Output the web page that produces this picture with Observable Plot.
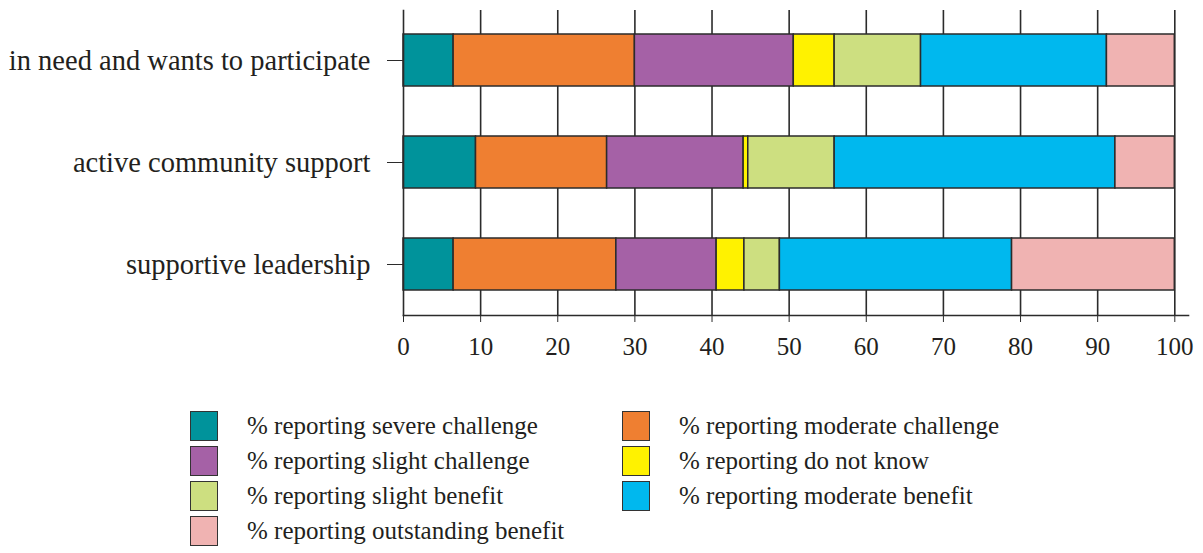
<!DOCTYPE html>
<html>
<head>
<meta charset="utf-8">
<script src="https://cdn.jsdelivr.net/npm/d3@7"></script>
<script src="https://cdn.jsdelivr.net/npm/@observablehq/plot@0.6"></script>
<style>
  body { margin: 0; background: #fff; }
  #chart { position: relative; width: 1203px; }
  .legend { font-family: "Liberation Serif", serif; font-size: 25px; color: #231f20;
    display: grid; grid-template-columns: 432px auto; row-gap: 4px;
    padding-left: 190px; margin-top: 40px; }
  .item { display: flex; align-items: center; height: 31px; }
  .sw { width: 26px; height: 28px; border: 1.5px solid #333; margin-right: 29px; flex: none; }
</style>
</head>
<body>
<div id="chart"></div>
<script>
const categories = ["in need and wants to participate", "active community support", "supportive leadership"];
const seriesNames = [
  "% reporting severe challenge",
  "% reporting moderate challenge",
  "% reporting slight challenge",
  "% reporting do not know",
  "% reporting slight benefit",
  "% reporting moderate benefit",
  "% reporting outstanding benefit"
];
const colors = ["#00939b", "#ef7f31", "#a561a6", "#fff200", "#cddf80", "#00b8ee", "#f0b3b2"];
const severeChallenge    = [6.5, 9.4, 6.5];
const moderateChallenge  = [23.5, 17.0, 21.1];
const slightChallenge    = [20.6, 17.7, 13.0];
const doNotKnow          = [5.3, 0.6, 3.6];
const slightBenefit      = [11.2, 11.2, 4.6];
const moderateBenefit    = [24.1, 36.4, 30.1];
const outstandingBenefit = [8.8, 7.7, 21.1];
const xTicks = [0, 10, 20, 30, 40, 50, 60, 70, 80, 90, 100];

const seriesValues = [severeChallenge, moderateChallenge, slightChallenge, doNotKnow,
  slightBenefit, moderateBenefit, outstandingBenefit];
const data = [];
categories.forEach((c, i) => {
  seriesNames.forEach((s, j) => data.push({category: c, series: s, value: seriesValues[j][i]}));
});

const ink = "#2b2b2b";
const plot = Plot.plot({
  width: 1203, height: 370,
  marginLeft: 403, marginRight: 15, marginTop: 10, marginBottom: 55,
  style: {fontFamily: "Liberation Serif, serif", fontSize: "25px", color: "#231f20", background: "white"},
  x: {domain: [0, 100], range: [403, 1174.3]},
  y: {domain: categories, paddingInner: 0.49, paddingOuter: 0.24},
  color: {domain: seriesNames, range: colors},
  marks: [
    Plot.gridX(xTicks.filter(d => d > 0), {stroke: ink, strokeOpacity: 1, strokeWidth: 1.6}),
    Plot.barX(data, {x: "value", y: "category", fill: "series", stroke: ink, strokeWidth: 1.5}),
    Plot.frame({anchor: "left", stroke: ink, strokeWidth: 1.6}),
    Plot.frame({anchor: "bottom", stroke: ink, strokeWidth: 1.6}),
    Plot.axisX(xTicks, {tickSize: 7, tickPadding: 15, fontSize: 25, label: null, tickFormat: d => d, stroke: ink}),
    Plot.axisY({tickSize: 16, tickPadding: 17, fontSize: 28.5, label: null, stroke: ink})
  ]
});
const chart = document.getElementById("chart");
chart.appendChild(plot);

const legend = document.createElement("div");
legend.className = "legend";
seriesNames.forEach((s, j) => {
  const it = document.createElement("div");
  it.className = "item";
  const sw = document.createElement("span");
  sw.className = "sw";
  sw.style.background = colors[j];
  const t = document.createElement("span");
  t.textContent = s;
  it.appendChild(sw); it.appendChild(t);
  legend.appendChild(it);
});
chart.appendChild(legend);
</script>
</body>
</html>
